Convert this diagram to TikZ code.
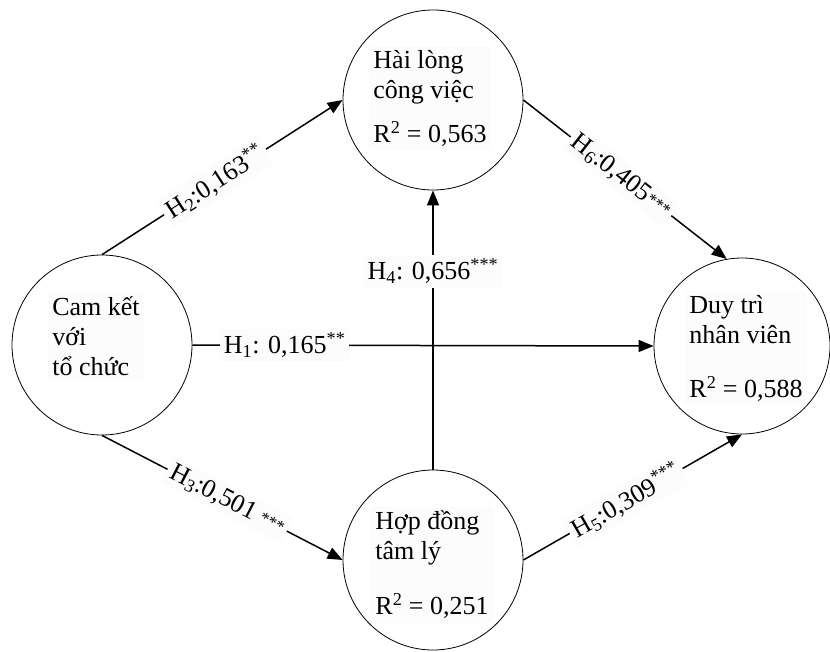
\documentclass[tikz,border=0pt]{standalone}
\usepackage{fontspec}
\setmainfont{Liberation Serif}
\usepackage{tikz}
\usetikzlibrary{positioning}
\usetikzlibrary{arrows.meta}
\tikzstyle{var}=[draw, circle, line width=0.8, minimum size=180, inner sep=0]
\tikzstyle{txt}=[align=left, inner sep=4, fill=black!1, font=\fontsize{26}{30}\selectfont]
\tikzstyle{eff}=[-{Triangle[length=15,width=12]}, line width=1.5]
\tikzstyle{coef}=[fill=black!1, inner sep=4, font=\fontsize{26}{30}\selectfont]
\newcommand{\stars}[1]{{\fontsize{17}{17}\selectfont\raisebox{2pt}{#1}}}
\tikzset{>=latex}

\begin{document}
\begin{tikzpicture}[x=1pt, y=-1pt]
    \useasboundingbox (0,0) rectangle (830,651);

    % the four constructs
    \node[var] (cam) at (102,345) {};
    \node[var] (hai) at (433,100) {};
    \node[var] (hop) at (433,560) {};
    \node[var, minimum size=176] (duy) at (742,346) {};

    % texts inside the circles
    \node[txt] (camtxt) at (96,336) {Cam kết\\với\\tổ chức};
    \node[txt] (haitxt) at (430,98) {Hài lòng\\công việc\\[14pt]R\textsuperscript{2} = 0,563};
    \node[txt] (hoptxt) at (432,565) {Hợp đồng\\tâm lý\\[25pt]R\textsuperscript{2} = 0,251};
    \node[txt] (duytxt) at (746,348) {Duy trì\\nhân viên\\[24pt]R\textsuperscript{2} = 0,588};

    % sloped paths: {from/to/pos/label}
    \foreach \a/\b/\p/\lab in {
        cam.north/hai.west/0.47/{H\textsubscript{2}:0,163\textsuperscript{**}},
        hai.east/duy.100/0.48/{H\textsubscript{6}:0,405\stars{***}},
        cam.south/hop.west/0.52/{H\textsubscript{3}:0,501 \stars{***}},
        hop.east/duy.south/0.47/{H\textsubscript{5}:0,309\textsuperscript{***}}
    } {
        \draw[eff] (\a) -- node[coef, sloped, pos=\p] {\lab} (\b);
    }

    % straight paths
    \draw[eff] (cam.east) -- node[coef, pos=0.2] {H\textsubscript{1}: 0,165\textsuperscript{**}} (duy.west);
    \draw[eff] (hop.north) -- node[coef, pos=0.71] {H\textsubscript{4}: 0,656\textsuperscript{***}} (hai.south);

\end{tikzpicture}
\end{document}
